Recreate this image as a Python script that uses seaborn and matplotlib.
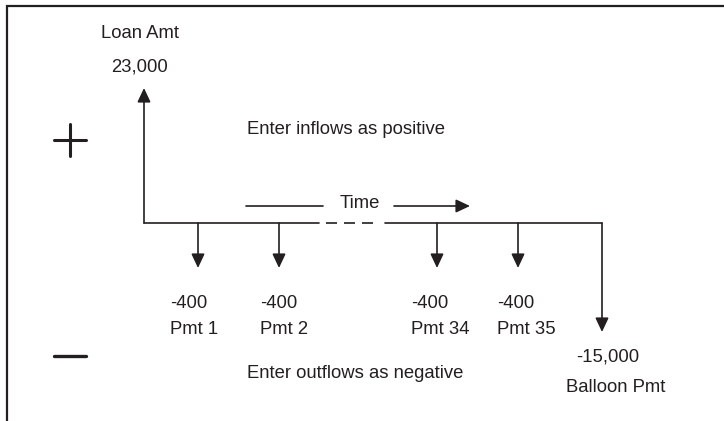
import matplotlib.pyplot as plt
import seaborn as sns

# cash flows shown on the time line
loan_label = 'Loan Amt'
loan_amount = 23000
pmt_labels = ['Pmt 1', 'Pmt 2', 'Pmt 34', 'Pmt 35']
pmt_amounts = [-400, -400, -400, -400]
balloon_label = 'Balloon Pmt'
balloon_amount = -15000

# schematic layout, in pixels of the 724x421 canvas
loan_x = 144
pmt_x = [198, 279, 437, 518]
pmt_text_x = [170, 260, 411, 497]
balloon_x = 602
line_y = 223
loan_tip = 88
pmt_tip = 268
balloon_tip = 332

ink = '#231f20'

sns.set_theme(style='white')
plt.rcParams['font.family'] = ['Liberation Sans', 'DejaVu Sans']
fs = 13.3
dy = 2  # small nudge so text centres sit like the reference

fig = plt.figure(figsize=(7.24, 4.21), dpi=100)
ax = fig.add_axes([0, 0, 1, 1])
ax.set_xlim(0, 724)
ax.set_ylim(421, 0)
ax.axis('off')

# frame: left and top rules only
ax.plot([7, 7, 724], [421, 6, 6], color=ink, lw=1.6, solid_joinstyle='miter')


def arrow(x0, y0, x1, y1):
    ax.annotate('', xy=(x1, y1), xytext=(x0, y0),
                arrowprops=dict(arrowstyle='-|>,head_length=0.85,head_width=0.4',
                                color=ink, lw=1.2, shrinkA=0, shrinkB=0,
                                mutation_scale=10))


def label(x, y, s, ha='center'):
    ax.text(x, y + dy, s, ha=ha, va='center', fontsize=fs, color=ink)


# time line with a dashed gap
ax.plot([loan_x, 319], [line_y, line_y], color=ink, lw=1.2)
ax.plot([326, 379], [line_y, line_y], color=ink, lw=1.2, dashes=(6.6, 4.2))
ax.plot([385, balloon_x], [line_y, line_y], color=ink, lw=1.2)

# loan inflow
arrow(loan_x, line_y, loan_x, loan_tip)
label(140, 32, loan_label)
label(140, 65, f'{loan_amount:,}')

# regular payments
for x, tx, lab, amt in zip(pmt_x, pmt_text_x, pmt_labels, pmt_amounts):
    arrow(x, line_y, x, pmt_tip)
    label(tx, 302, f'{amt:,}', ha='left')
    label(tx, 327, lab, ha='left')

# balloon payment
arrow(balloon_x, line_y, balloon_x, balloon_tip)
label(608, 355, f'{balloon_amount:,}')
label(616, 386, balloon_label)

# time direction
ax.plot([246, 323], [206, 206], color=ink, lw=1.2)
arrow(394, 206, 470, 206)
label(360, 201, 'Time')

# sign hints
ax.plot([54, 86], [140, 140], color=ink, lw=2.2)
ax.plot([70, 70], [124, 156], color=ink, lw=2.2)
ax.plot([54, 86], [356, 356], color=ink, lw=2.4)
label(247, 128, 'Enter inflows as positive', ha='left')
label(247, 371, 'Enter outflows as negative', ha='left')

fig.savefig('out.png', dpi=100)
